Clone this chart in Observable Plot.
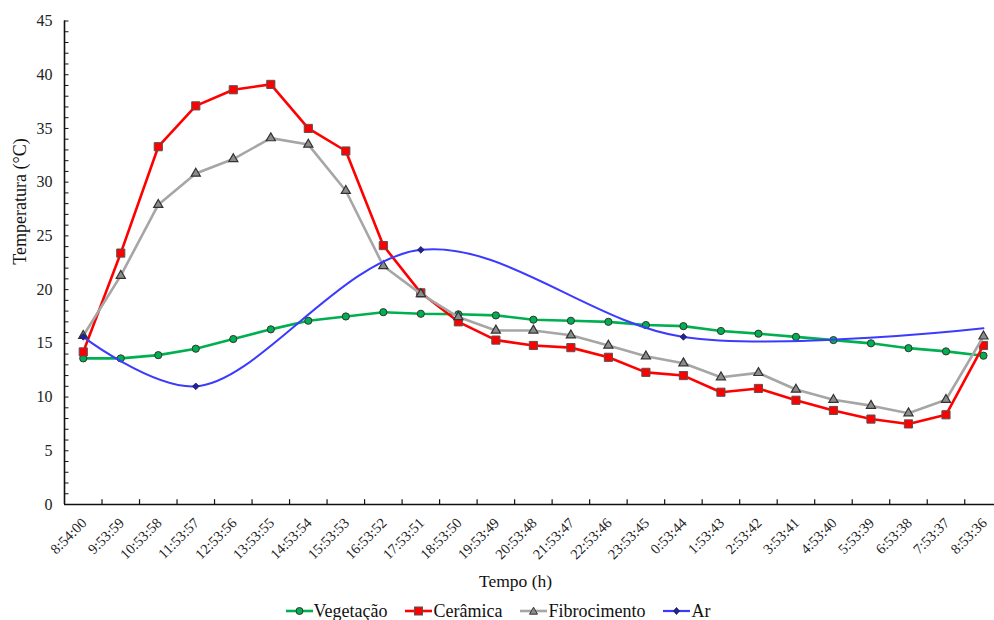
<!DOCTYPE html>
<html><head><meta charset="utf-8">
<script src="https://cdn.jsdelivr.net/npm/d3@7"></script>
<script src="https://cdn.jsdelivr.net/npm/@observablehq/plot@0.6"></script>
<style>
body{margin:0;background:#fff;font-family:"Liberation Serif","Times New Roman",serif;}
#wrap{position:relative;width:994px;height:620px;overflow:hidden;background:#fff}
#legend{position:absolute;top:602px;left:0;width:994px;height:18px;display:flex;justify-content:center;align-items:center;font-size:18px;line-height:18px;color:#111;padding-left:2px;box-sizing:border-box}
.item{display:flex;align-items:center;margin:0 9px}
.item svg{margin-right:1px}
</style></head><body>
<div id="wrap"><div id="chart"></div><div id="legend"></div></div>
<script>
const times = ["8:54:00","9:53:59","10:53:58","11:53:57","12:53:56","13:53:55","14:53:54","15:53:53","16:53:52","17:53:51","18:53:50","19:53:49","20:53:48","21:53:47","22:53:46","23:53:45","0:53:44","1:53:43","2:53:42","3:53:41","4:53:40","5:53:39","6:53:38","7:53:37","8:53:36"];
const vegetacao = [13.6,13.6,13.9,14.5,15.4,16.3,17.1,17.5,17.9,17.75,17.7,17.6,17.2,17.1,17.0,16.7,16.6,16.15,15.9,15.6,15.3,15.0,14.55,14.25,13.85];
const ceramica = [14.2,23.4,33.3,37.1,38.6,39.1,35.0,32.9,24.1,19.7,17.0,15.3,14.8,14.6,13.7,12.3,12.0,10.45,10.8,9.7,8.75,7.95,7.5,8.35,14.8];
const fibrocimento = [15.7,21.3,27.9,30.8,32.15,34.1,33.5,29.2,22.2,19.6,17.45,16.2,16.2,15.75,14.8,13.8,13.15,11.85,12.25,10.7,9.75,9.2,8.5,9.75,15.65];
const ar = [15.6,null,null,11.0,null,null,null,null,null,23.7,null,null,null,null,null,null,15.6,null,null,null,null,null,null,null,16.4];
const yTicks = [0,5,10,15,20,25,30,35,40,45];
const seriesNames = ["Vegetação","Cerâmica","Fibrocimento","Ar"];
const xTitle = "Tempo (h)";
const yTitle = "Temperatura (°C)";

const rows = times.map((t,i)=>({i,t,veg:vegetacao[i],cer:ceramica[i],fib:fibrocimento[i],ar:ar[i]}));
const arRows = rows.filter(d=>d.ar!=null);
const xMin = -0.5, xMax = times.length - 0.5;
const FONT = '"Liberation Serif","Times New Roman",serif';
const C = {veg:"#00b050", cer:"#ff0000", fib:"#a6a6a6", ar:"#3b3bff"};

const chart = Plot.plot({
  width: 994, height: 598,
  marginLeft: 64, marginTop: 20.5, marginBottom: 94, marginRight: 0,
  x: {domain:[xMin,xMax], range:[64,1001.75], axis:null},
  y: {domain:[0,45], range:[504,20.5], axis:null},
  style: {fontFamily: FONT, background:"white", color:"#111"},
  marks: [
    Plot.ruleY(d3.range(0,46), {y:d=>d, x1:xMin, x2:xMin+0.12, stroke:"#111", strokeWidth:1}),
    Plot.ruleX(d3.range(times.length).map(i=>i+0.5), {x:d=>d, y1:0, y2:0.45, stroke:"#111", strokeWidth:1.2}),
    Plot.ruleX([xMin], {x:d=>d, y1:0, y2:45, stroke:"#111", strokeWidth:1.6}),
    Plot.ruleY([0], {y:d=>d, x1:xMin, x2:xMax, stroke:"#111", strokeWidth:1.6}),
    Plot.text(yTicks, {x:xMin, y:d=>d, text:d=>String(d), dx:-12, textAnchor:"end", fontSize:16, fill:"#222"}),
    Plot.text(rows, {x:"i", y:0, text:"t", rotate:-45, textAnchor:"end", lineAnchor:"top", dy:12, dx:-3, fontSize:14.5, fill:"#222"}),
    Plot.text([xTitle], {text:d=>d, frameAnchor:"bottom", dy:82, dx:-14, fontSize:17.5, fill:"#111"}),
    Plot.text([yTitle], {text:d=>d, frameAnchor:"left", rotate:-90, dx:-44, dy:2, fontSize:18, fill:"#111"}),
    Plot.line(rows, {x:"i", y:"veg", stroke:C.veg, strokeWidth:2.6}),
    Plot.dot(rows, {x:"i", y:"veg", r:3.6, symbol:"circle", fill:C.veg, stroke:"#333", strokeWidth:1}),
    Plot.line(rows, {x:"i", y:"cer", stroke:C.cer, strokeWidth:2.6}),
    Plot.dot(rows, {x:"i", y:"cer", r:4.6, symbol:"square", fill:C.cer, stroke:"#555", strokeWidth:1}),
    Plot.line(rows, {x:"i", y:"fib", stroke:C.fib, strokeWidth:2.6}),
    Plot.dot(rows, {x:"i", y:"fib", r:3.4, symbol:"triangle", fill:"#8c8c8c", stroke:"#333", strokeWidth:1.2}),
    Plot.line(arRows, {x:"i", y:"ar", curve:"catmull-rom", stroke:C.ar, strokeWidth:2}),
    Plot.dot(arRows.slice(0,-1), {x:"i", y:"ar", r:3, symbol:"diamond2", fill:"#2020b0", stroke:"#222", strokeWidth:0.8})
  ]
});
document.getElementById("chart").appendChild(chart);

const sw = [
  `<svg width="27" height="12"><line x1="0" y1="6" x2="27" y2="6" stroke="${C.veg}" stroke-width="2.6"/><circle cx="13.5" cy="6" r="3.5" fill="${C.veg}" stroke="#333"/></svg>`,
  `<svg width="27" height="12"><line x1="0" y1="6" x2="27" y2="6" stroke="${C.cer}" stroke-width="2.6"/><rect x="9.5" y="2" width="8" height="8" fill="${C.cer}" stroke="#555"/></svg>`,
  `<svg width="27" height="12"><line x1="0" y1="6" x2="27" y2="6" stroke="${C.fib}" stroke-width="2.6"/><path d="M13.5,2.2L17.5,9.2L9.5,9.2Z" fill="#8c8c8c" stroke="#333"/></svg>`,
  `<svg width="27" height="12"><line x1="0" y1="6" x2="27" y2="6" stroke="${C.ar}" stroke-width="2.2"/><path d="M13.5,2.5L16.5,6L13.5,9.5L10.5,6Z" fill="#2020b0" stroke="#222" stroke-width="0.8"/></svg>`
];
document.getElementById("legend").innerHTML = seriesNames.map((n,k)=>`<div class="item">${sw[k]}<span>${n}</span></div>`).join("");
</script>
</body></html>
